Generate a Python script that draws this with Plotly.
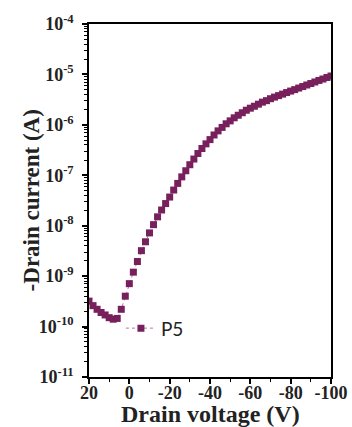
import plotly.graph_objects as go

# Drain voltage (V)
voltage = [20, 18, 16, 14, 12, 10, 8, 6, 4, 2, 0, -2, -4, -6, -8, -10, -12, -14, -16, -18,
           -20, -22, -24, -26, -28, -30, -32, -34, -36, -38, -40, -42, -44, -46, -48, -50,
           -52, -54, -56, -58, -60, -62, -64, -66, -68, -70, -72, -74, -76, -78, -80,
           -82, -84, -86, -88, -90, -92, -94, -96, -98, -100]
# -Drain current (A)
current = [3.2e-10, 2.6e-10, 2.2e-10, 1.9e-10, 1.7e-10, 1.5e-10, 1.4e-10, 1.45e-10, 2.2e-10,
           4.0e-10, 7.1e-10, 1.2e-9, 1.95e-9, 3.2e-9, 4.8e-9, 7.2e-9, 1.05e-8, 1.5e-8,
           2.05e-8, 2.75e-8, 3.7e-8, 5.1e-8, 6.9e-8, 9.3e-8, 1.23e-7, 1.62e-7, 2.1e-7,
           2.7e-7, 3.4e-7, 4.2e-7, 5.1e-7, 6.3e-7, 7.6e-7, 8.9e-7, 1.05e-6, 1.2e-6,
           1.38e-6, 1.55e-6, 1.74e-6, 1.95e-6, 2.14e-6, 2.34e-6, 2.57e-6, 2.82e-6,
           3.02e-6, 3.3e-6, 3.55e-6, 3.8e-6, 4.07e-6, 4.37e-6, 4.68e-6, 5.0e-6, 5.37e-6,
           5.75e-6, 6.17e-6, 6.6e-6, 7.08e-6, 7.6e-6, 8.1e-6, 8.7e-6, 9.3e-6]
series_name = "P5"
x_title = "Drain voltage (V)"
y_title = "-Drain current (A)"
x_ticks = [20, 0, -20, -40, -60, -80, -100]
y_ticks = [1e-11, 1e-10, 1e-9, 1e-8, 1e-7, 1e-6, 1e-5, 1e-4]
y_ticktext = ["10<sup>-11</sup>", "10<sup>-10</sup>", "10<sup>-9</sup>", "10<sup>-8</sup>",
              "10<sup>-7</sup>", "10<sup>-6</sup>", "10<sup>-5</sup>", "10<sup>-4</sup>"]

color = "#78205c"
serif = "Liberation Serif"

fig = go.Figure()
fig.add_trace(go.Scatter(
    x=voltage, y=current, name=series_name, mode="lines+markers",
    marker=dict(symbol="square", size=7, color=color, line=dict(width=0)),
    line=dict(color="rgba(120,32,92,0.6)", width=1, dash="dot"),
))

axis_common = dict(
    showline=True, linecolor="black", linewidth=1.5, mirror=True,
    ticks="outside", tickcolor="black", tickwidth=1.5, ticklen=5,
    showgrid=False, zeroline=False, automargin=False,
    tickfont=dict(family=serif, size=18, color="#222", weight="bold"),
)

fig.update_xaxes(
    range=[20, -100], tickvals=x_ticks,
    ticktext=[str(v) for v in x_ticks],
    ticklabelstandoff=-6,
    minor=dict(ticks="outside", dtick=10, ticklen=3, tickcolor="black", tickwidth=1.2, showgrid=False),
    **axis_common,
)
fig.update_yaxes(
    type="log", range=[-11, -4], tickvals=y_ticks, ticktext=y_ticktext,
    ticklabelstandoff=5,
    minor=dict(ticks="outside", dtick="D1", ticklen=3, tickcolor="black", tickwidth=1, showgrid=False),
    **axis_common,
)

# axis titles as annotations for exact placement
fig.add_annotation(text="<b>" + x_title + "</b>", xref="paper", yref="paper",
                   x=0.5, y=-0.106, xanchor="center", yanchor="middle", showarrow=False,
                   font=dict(family=serif, size=24, color="#222"))
fig.add_annotation(text="<b>" + y_title + "</b>", xref="paper", yref="paper",
                   x=-0.236, y=0.5, xanchor="center", yanchor="middle", showarrow=False,
                   textangle=-90, font=dict(family=serif, size=23, color="#222"))

fig.update_layout(
    width=352, height=427,
    margin=dict(l=89, r=21, t=24, b=50),
    paper_bgcolor="white", plot_bgcolor="white",
    showlegend=True,
    legend=dict(x=0.132, y=0.138, xanchor="left", yanchor="middle",
                bgcolor="rgba(0,0,0,0)",
                font=dict(family="Lato", size=19, color="#222")),
)

fig.write_html("out.html", config={"displayModeBar": False},
               post_script="document.body.style.margin='0';")
